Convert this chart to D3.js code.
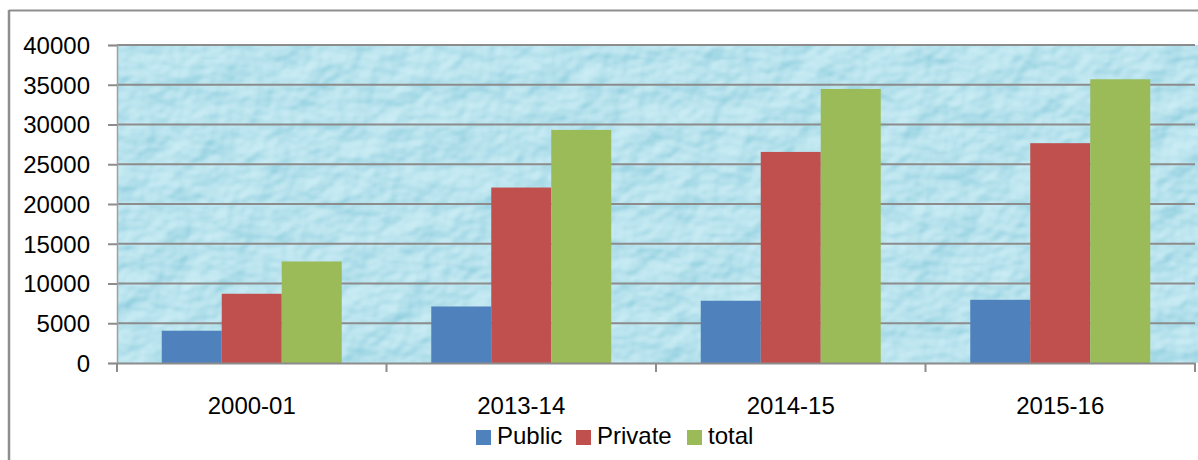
<!DOCTYPE html>
<html>
<head>
<meta charset="utf-8">
<script src="https://cdn.jsdelivr.net/npm/d3@7"></script>
<style>
  html, body { margin: 0; padding: 0; background: #ffffff; }
  svg { display: block; font-family: "Liberation Sans", Arial, sans-serif; }
</style>
</head>
<body>
<svg id="chart" width="1198" height="460"></svg>
<script>
// ---- data ----
const categories = ["2000-01", "2013-14", "2014-15", "2015-16"];
const seriesNames = ["Public", "Private", "total"];
const publicValues  = [4060, 7110, 7830, 7950];
const privateValues = [8710, 22070, 26550, 27650];
const totalValues   = [12770, 29320, 34470, 35690];
const yTicks = [0, 5000, 10000, 15000, 20000, 25000, 30000, 35000, 40000];
const seriesColors = ["#4f81bd", "#c0504d", "#9bbb59"];

const seriesValues = [publicValues, privateValues, totalValues];

const svg = d3.select("#chart");
const W = 1198, H = 460;
const plot = { left: 117, right: 1195, top: 45, bottom: 363 };

// ---- defs: water-drop-like texture ----
const defs = svg.append("defs");
const f = defs.append("filter").attr("id", "drops")
  .attr("x", 0).attr("y", 0).attr("width", 1).attr("height", 1)
  .attr("color-interpolation-filters", "sRGB");
f.append("feTurbulence").attr("type", "fractalNoise")
  .attr("baseFrequency", "0.028 0.034").attr("numOctaves", 3).attr("seed", 11).attr("result", "noise");
f.append("feDiffuseLighting").attr("in", "noise").attr("surfaceScale", 4.5)
  .attr("lighting-color", "#ffffff").attr("result", "lit")
  .append("feDistantLight").attr("azimuth", 235).attr("elevation", 55);
f.append("feColorMatrix").attr("in", "lit").attr("type", "matrix")
  .attr("values", "0.42 0 0 0 0.38  0 0.22 0 0 0.71  0 0 0.16 0 0.80  0 0 0 0 1");

// ---- outer frame ----
svg.append("line").attr("x1", 9).attr("x2", W).attr("y1", 10.5).attr("y2", 10.5)
  .attr("stroke", "#8e8e8e").attr("stroke-width", 2);
svg.append("line").attr("x1", 9).attr("x2", 9).attr("y1", 10).attr("y2", H)
  .attr("stroke", "#8e8e8e").attr("stroke-width", 2.5);

// ---- scales ----
const x0 = d3.scaleBand().domain(categories).range([plot.left, plot.right]).paddingInner(0).paddingOuter(0);
const x1 = d3.scaleBand().domain(seriesNames).range([0, x0.bandwidth()]).paddingInner(0).paddingOuter(0.746);
const y = d3.scaleLinear().domain([0, 40000]).range([plot.bottom, plot.top]);

// ---- plot background ----
svg.append("rect").attr("x", plot.left).attr("y", plot.top)
  .attr("width", W - plot.left).attr("height", plot.bottom - plot.top)
  .attr("fill", "#b5e3ec");
svg.append("rect").attr("x", plot.left).attr("y", plot.top)
  .attr("width", W - plot.left).attr("height", plot.bottom - plot.top)
  .attr("fill", "#ffffff").attr("filter", "url(#drops)");

// ---- gridlines ----
svg.append("g").selectAll("line").data(yTicks.filter(d => d > 0)).join("line")
  .attr("x1", plot.left).attr("x2", plot.right)
  .attr("y1", d => y(d)).attr("y2", d => y(d))
  .attr("stroke", "#8c8c8c").attr("stroke-width", 2);

// ---- y axis ----
const yAxis = svg.append("g").attr("transform", `translate(${plot.left},0)`)
  .call(d3.axisLeft(y).tickValues(yTicks).tickSize(9).tickPadding(18).tickFormat(d3.format("d")));
yAxis.select(".domain").attr("stroke", "#a0a0a0").attr("stroke-width", 1.5);
yAxis.selectAll(".tick line").attr("stroke", "#8c8c8c").attr("stroke-width", 2);
yAxis.selectAll(".tick text").attr("font-size", 24).attr("fill", "#000")
  .attr("font-family", "Liberation Sans, Arial, sans-serif").attr("dy", "0.35em");

// ---- bars ----
const groups = svg.append("g").selectAll("g").data(categories).join("g")
  .attr("transform", d => `translate(${x0(d)},0)`);
groups.selectAll("rect")
  .data((c, i) => seriesNames.map((s, j) => ({ s, j, v: seriesValues[j][i] })))
  .join("rect")
  .attr("x", d => x1(d.s)).attr("width", x1.bandwidth())
  .attr("y", d => y(d.v)).attr("height", d => y(0) - y(d.v))
  .attr("fill", d => seriesColors[d.j]);

// ---- x axis ----
const xAxis = svg.append("g").attr("transform", `translate(0,${plot.bottom})`)
  .call(d3.axisBottom(x0).tickSize(0).tickPadding(34));
xAxis.select(".domain").attr("stroke", "#8c8c8c").attr("stroke-width", 2);
xAxis.selectAll(".tick text").attr("font-size", 24).attr("fill", "#000")
  .attr("font-family", "Liberation Sans, Arial, sans-serif");
// boundary tick marks
const boundaries = categories.map(c => x0(c)).concat([x0(categories[categories.length - 1]) + x0.step()]);
svg.append("g").selectAll("line").data(boundaries).join("line")
  .attr("x1", d => d).attr("x2", d => d)
  .attr("y1", plot.bottom).attr("y2", plot.bottom + 9)
  .attr("stroke", "#8c8c8c").attr("stroke-width", 2);

// ---- legend ----
const legendX = [476, 576, 687];
const lg = svg.append("g").selectAll("g").data(seriesNames).join("g")
  .attr("transform", (d, i) => `translate(${legendX[i]},430)`);
lg.append("rect").attr("width", 15).attr("height", 15).attr("fill", (d, i) => seriesColors[i]);
lg.append("text").attr("x", 21).attr("y", 13.5).attr("font-size", 24).attr("fill", "#000")
  .text(d => d);
</script>
</body>
</html>
